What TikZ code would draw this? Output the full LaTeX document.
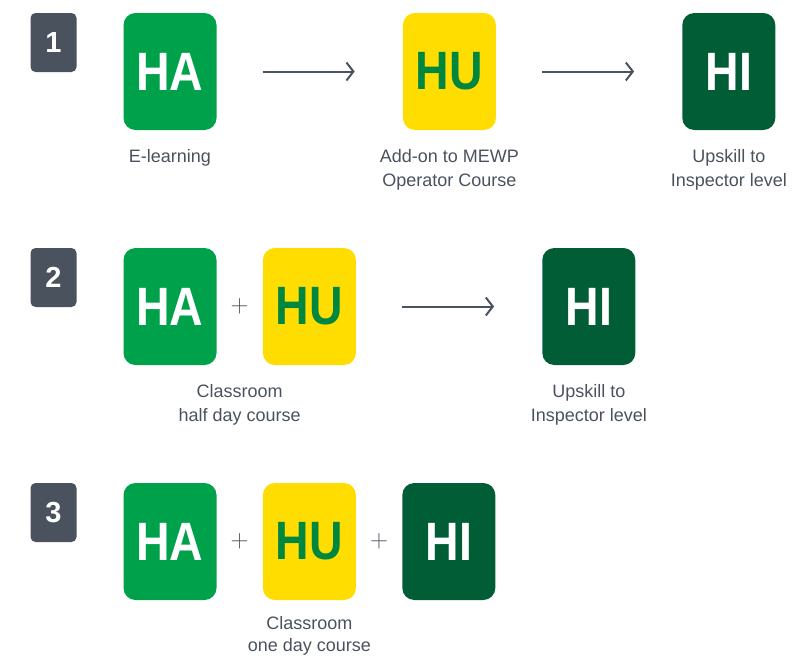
\documentclass[tikz,border=0pt]{standalone}
\usepackage{fontspec}
\setmainfont{Liberation Sans}
\usetikzlibrary{positioning,arrows.meta,calc}
\definecolor{hagreen}{HTML}{00A14B}
\definecolor{huyellow}{HTML}{FFDD00}
\definecolor{hutext}{HTML}{00873F}
\definecolor{higreen}{HTML}{005D35}
\definecolor{slate}{HTML}{4A525E}
\newcommand{\tagtext}[1]{\scalebox{0.86}[1]{#1}}
\tikzset{
  tagbox/.style={rounded corners=12pt, minimum width=93pt, minimum height=117pt, inner sep=0pt,
    font=\bfseries\fontsize{54}{54}\selectfont},
  ha/.style={tagbox, fill=hagreen, text=white},
  hu/.style={tagbox, fill=huyellow, text=hutext},
  hi/.style={tagbox, fill=higreen, text=white},
  badge/.style={rounded corners=5pt, fill=slate, text=white, minimum width=46pt, minimum height=59pt,
    inner sep=0pt, font=\bfseries\fontsize{29}{29}\selectfont},
  caption/.style={text=slate, align=center, inner sep=0pt, font=\fontsize{18}{24}\selectfont},
  plus/.style={text=slate, inner sep=0pt, font=\fontsize{42}{42}\selectfont},
  flow/.style={draw=slate, line width=2pt, -{Straight Barb[length=7pt,width=18pt]},
    shorten <=46pt, shorten >=48pt}
}
\begin{document}
\begin{tikzpicture}[x=1pt,y=-1pt]
  \useasboundingbox (0,0) rectangle (792,656);
  \node[badge] (n1) at (53.5,42.5) {1};
  \node[ha] (ha1) at (170,71.5) {\tagtext{HA}};
  \node[hu,right=186pt of ha1] (hu1) {\tagtext{HU}};
  \node[hi,right=186pt of hu1] (hi1) {\tagtext{HI}};
  \draw[flow] (ha1) -- (hu1);
  \draw[flow] (hu1) -- (hi1);
  \node[caption,below=19pt of ha1] (c11) {E-learning};
  \node[caption,below=19pt of hu1] (c12) {Add-on to MEWP\\Operator Course};
  \node[caption,below=19pt of hi1] (c13) {Upskill to\\Inspector level};

  \node[badge] (n2) at (53.5,277.5) {2};
  \node[ha] (ha2) at (170,306.5) {\tagtext{HA}};
  \node[hu,right=46pt of ha2] (hu2) {\tagtext{HU}};
  \node[hi,right=186pt of hu2] (hi2) {\tagtext{HI}};
  \node[plus] (p21) at ($(ha2)!.5!(hu2)$) {$+$};
  \draw[flow] (hu2) -- (hi2);
  \node[caption,anchor=north] (c21) at ($(ha2.south)!.5!(hu2.south)+(0,19)$) {Classroom\\half day course};
  \node[caption,below=19pt of hi2] (c22) {Upskill to\\Inspector level};

  \node[badge] (n3) at (53.5,512.5) {3};
  \node[ha] (ha3) at (170,541.5) {\tagtext{HA}};
  \node[hu,right=46pt of ha3] (hu3) {\tagtext{HU}};
  \node[hi,right=46pt of hu3] (hi3) {\tagtext{HI}};
  \node[plus] (p31) at ($(ha3)!.5!(hu3)$) {$+$};
  \node[plus] (p32) at ($(hu3)!.5!(hi3)$) {$+$};
  \node[caption,below=16pt of hu3,font=\fontsize{18}{22}\selectfont] (c31) {Classroom\\one day course};
\end{tikzpicture}
\end{document}
